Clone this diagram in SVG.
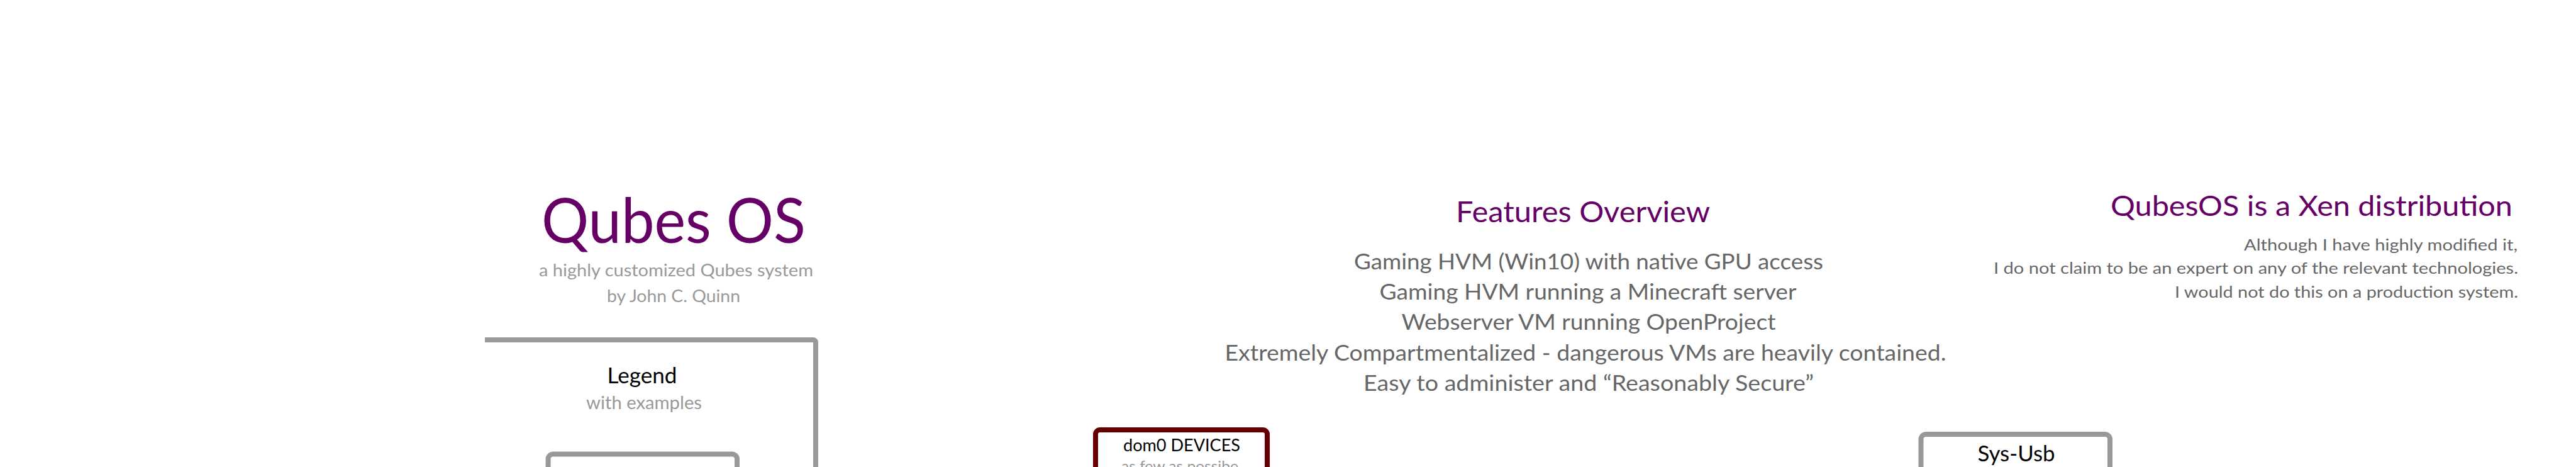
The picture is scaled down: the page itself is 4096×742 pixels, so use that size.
<svg xmlns="http://www.w3.org/2000/svg" width="4096" height="742" viewBox="0 0 4096 742">
<style>
text{font-family:Lato,"Open Sans","Liberation Sans",sans-serif}
.ttl{fill:#660066}
.sub{fill:#999999}
.body{fill:#666666}
.lbl{fill:#000000}
.box{fill:none;stroke:#999999;stroke-width:8}
.dbox{fill:none;stroke:#660000;stroke-width:8}
</style>
<rect width="4096" height="742" fill="#ffffff"/>
<g id="connectors"></g>
<g id="header">
<text class="ttl" x="1071" y="386" font-size="98" text-anchor="middle" textLength="420" lengthAdjust="spacingAndGlyphs">Qubes OS</text>
<text class="sub" x="1075" y="439" font-size="27" text-anchor="middle" textLength="436" lengthAdjust="spacingAndGlyphs">a highly customized Qubes system</text>
<text class="sub" x="1071" y="480" font-size="27" text-anchor="middle" textLength="212" lengthAdjust="spacingAndGlyphs">by John C. Quinn</text>
</g>
<g id="legend">
<path class="box" d="M771,540 H1293 A4,4 0 0 1 1297,544 V760"/>
<text class="lbl" x="1021" y="609" font-size="35" text-anchor="middle" textLength="111" lengthAdjust="spacingAndGlyphs">Legend</text>
<text class="sub" x="1024" y="650" font-size="28" text-anchor="middle" textLength="184" lengthAdjust="spacingAndGlyphs">with examples</text>
</g>
<g id="legend-example">
<path class="box" d="M871.6,760 V729.5 A8,8 0 0 1 879.6,721.5 H1164 A8,8 0 0 1 1172,729.5 V760"/>
</g>
<g id="features">
<text class="ttl" x="2517" y="353" font-size="47" text-anchor="middle" textLength="404" lengthAdjust="spacingAndGlyphs">Features Overview</text>
<text class="body" x="2526" y="428" font-size="34" text-anchor="middle" textLength="746" lengthAdjust="spacingAndGlyphs">Gaming HVM (Win10) with native GPU access</text>
<text class="body" x="2525" y="476" font-size="34" text-anchor="middle" textLength="663" lengthAdjust="spacingAndGlyphs">Gaming HVM running a Minecraft server</text>
<text class="body" x="2526" y="524" font-size="34" text-anchor="middle" textLength="595" lengthAdjust="spacingAndGlyphs">Webserver VM running OpenProject</text>
<text class="body" x="2521" y="573" font-size="34" text-anchor="middle" textLength="1147" lengthAdjust="spacingAndGlyphs">Extremely Compartmentalized - dangerous VMs are heavily contained.</text>
<text class="body" x="2526" y="621" font-size="34" text-anchor="middle" textLength="716" lengthAdjust="spacingAndGlyphs">Easy to administer and “Reasonably Secure”</text>
</g>
<g id="disclaimer">
<text class="ttl" x="3995" y="343" font-size="45" text-anchor="end" textLength="639" lengthAdjust="spacingAndGlyphs">QubesOS is a Xen distribution</text>
<text class="body" x="4003" y="398" font-size="25" text-anchor="end" textLength="435" lengthAdjust="spacingAndGlyphs">Although I have highly modified it,</text>
<text class="body" x="4004" y="435" font-size="25" text-anchor="end" textLength="834" lengthAdjust="spacingAndGlyphs">I do not claim to be an expert on any of the relevant technologies.</text>
<text class="body" x="4004" y="473" font-size="25" text-anchor="end" textLength="546" lengthAdjust="spacingAndGlyphs">I would not do this on a production system.</text>
</g>
<g id="dom0-devices">
<rect class="dbox" x="1742" y="683" width="273" height="100" rx="7"/>
<text class="lbl" x="1879" y="717" font-size="27" text-anchor="middle" textLength="186" lengthAdjust="spacingAndGlyphs">dom0 DEVICES</text>
<text class="sub" x="1876" y="749" font-size="23" text-anchor="middle" textLength="186" lengthAdjust="spacingAndGlyphs">as few as possibe</text>
</g>
<g id="sys-usb">
<rect class="box" x="3054.5" y="690" width="300.5" height="100" rx="8"/>
<text class="lbl" x="3206" y="733" font-size="35" text-anchor="middle" textLength="123" lengthAdjust="spacingAndGlyphs">Sys-Usb</text>
</g>
</svg>
